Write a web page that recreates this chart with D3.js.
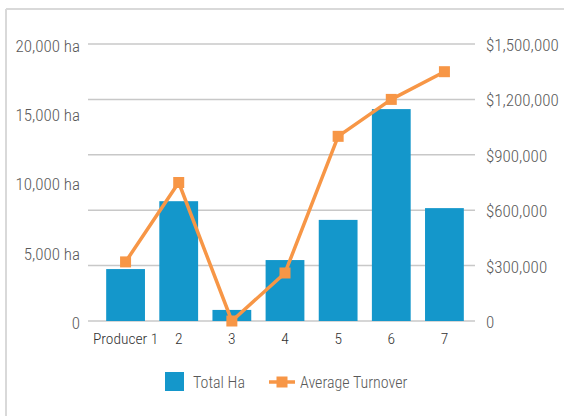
<!DOCTYPE html>
<html>
<head>
<meta charset="utf-8">
<script src="https://cdn.jsdelivr.net/npm/d3@7"></script>
<style>
body{margin:0;background:#fff;}
text{font-family:"Roboto Condensed","Liberation Sans Narrow",sans-serif;font-weight:300;}
</style>
</head>
<body>
<div id="chart"></div>
<script>
var w=564
var h=416

// data
var producers=["Producer 1","2","3","4","5","6","7"]
var totalHa=[3750,8650,800,4400,7300,15300,8150]
var avgTurnover=[320000,750000,0,260000,1000000,1200000,1350000]
var leftTicks=[0,5000,10000,15000,20000]
var rightTicks=[0,300000,600000,900000,1200000,1500000]

var blue="#1497cb"
var orange="#f79646"

var svg=d3.select("#chart")
          .append("svg")
          .attr("width",w)
          .attr("height",h);

// frame
svg.append("line")
   .attr("x1",6).attr("x2",6)
   .attr("y1",9).attr("y2",h)
   .attr("stroke","#d9d9d9").attr("stroke-width",2);
svg.append("line")
   .attr("x1",6).attr("x2",w)
   .attr("y1",9).attr("y2",9)
   .attr("stroke","#d9d9d9").attr("stroke-width",2);

var xScale=d3.scaleBand()
             .domain(producers)
             .range([99,471])
             .paddingInner(0.27)
             .paddingOuter(0.135);

var yLeft=d3.scaleLinear()
            .domain([0,20000])
            .range([321,44]);

var yRight=d3.scaleLinear()
             .domain([0,1500000])
             .range([321,44]);

// gridlines follow the right axis
svg.append("g")
   .attr("class","grid")
   .selectAll("line")
   .data(rightTicks)
   .enter()
   .append("line")
   .attr("x1",88)
   .attr("x2",475)
   .attr("y1",function(d){return yRight(d);})
   .attr("y2",function(d){return yRight(d);})
   .attr("stroke","#c8c8c8")
   .attr("stroke-width",1.5);

// bars
svg.append("g")
   .selectAll("rect")
   .data(totalHa)
   .enter()
   .append("rect")
   .attr("x",function(d,i){return xScale(producers[i]);})
   .attr("width",xScale.bandwidth())
   .attr("y",function(d){return yLeft(d);})
   .attr("height",function(d){return yLeft(0)-yLeft(d);})
   .attr("fill",blue);

// line
var line=d3.line()
           .x(function(d,i){return xScale(producers[i])+xScale.bandwidth()/2;})
           .y(function(d){return yRight(d);});

svg.append("path")
   .datum(avgTurnover)
   .attr("d",line)
   .attr("fill","none")
   .attr("stroke",orange)
   .attr("stroke-width",3.5)
   .attr("stroke-linejoin","round");

svg.append("g")
   .selectAll("rect")
   .data(avgTurnover)
   .enter()
   .append("rect")
   .attr("x",function(d,i){return xScale(producers[i])+xScale.bandwidth()/2-5.5;})
   .attr("y",function(d){return yRight(d)-5.5;})
   .attr("width",11)
   .attr("height",11)
   .attr("fill",orange);

// axes
var fmtHa=function(d){return d==0?"0":d3.format(",")(d)+" ha";};
var fmtUsd=function(d){return d==0?"0":"$"+d3.format(",")(d);};

var leftAxis=svg.append("g")
                .attr("transform","translate(80,2)")
                .call(d3.axisLeft(yLeft).tickValues(leftTicks).tickFormat(fmtHa).tickSize(0).tickPadding(0));
var rightAxis=svg.append("g")
                 .attr("transform","translate(486,1)")
                 .call(d3.axisRight(yRight).tickValues(rightTicks).tickFormat(fmtUsd).tickSize(0).tickPadding(0));
var bottomAxis=svg.append("g")
                  .attr("transform","translate(0,333)")
                  .call(d3.axisBottom(xScale).tickSize(0).tickPadding(0));

[leftAxis,rightAxis,bottomAxis].forEach(function(a){
    a.select(".domain").remove();
    a.selectAll("text")
     .attr("font-family",null)
     .attr("font-size",17)
     .attr("fill","#595959");
});
bottomAxis.selectAll("text")
          .attr("font-size",15.5)
          .attr("fill","#333");

// legend
var legend=svg.append("g").attr("class","legend");
legend.append("rect")
      .attr("x",165).attr("y",372)
      .attr("width",19).attr("height",19)
      .attr("fill",blue);
legend.append("text")
      .attr("x",193).attr("y",382)
      .attr("dominant-baseline","central")
      .attr("font-size",16)
      .attr("fill","#595959")
      .text("Total Ha");
legend.append("line")
      .attr("x1",269).attr("x2",295)
      .attr("y1",382).attr("y2",382)
      .attr("stroke",orange).attr("stroke-width",3.5);
legend.append("rect")
      .attr("x",276.5).attr("y",376.5)
      .attr("width",11).attr("height",11)
      .attr("fill",orange);
legend.append("text")
      .attr("x",300).attr("y",382)
      .attr("dominant-baseline","central")
      .attr("font-size",16)
      .attr("fill","#595959")
      .text("Average Turnover");
</script>
</body>
</html>
